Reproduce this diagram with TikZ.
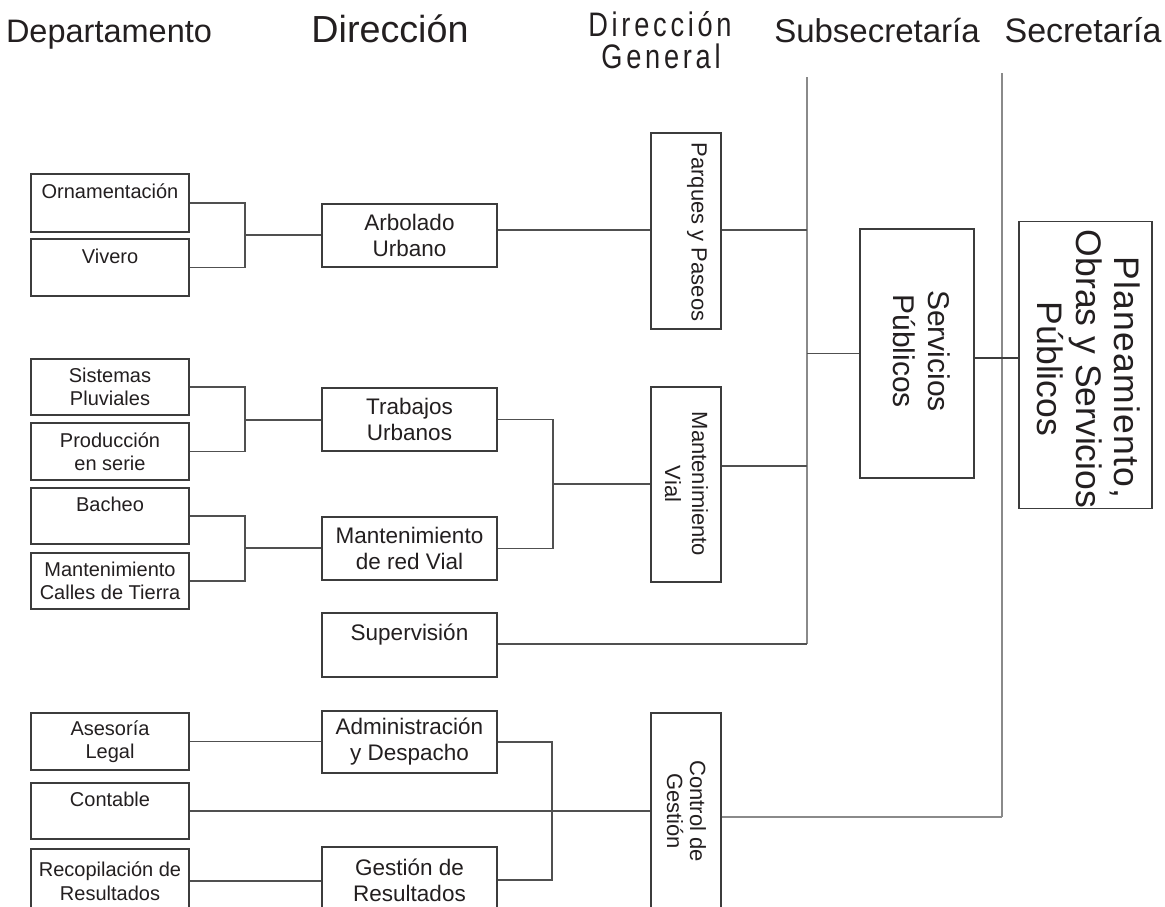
\documentclass[tikz,border=0pt]{standalone}
\usepackage{fontspec}
\setmainfont{Liberation Sans}
\newfontfamily\spacedfont[LetterSpace=11,FakeStretch=0.8]{Liberation Sans}
\definecolor{boxc}{HTML}{3C3C3C}
\definecolor{conc}{HTML}{505050}
\definecolor{busc}{HTML}{8A8A8A}
\definecolor{txtc}{HTML}{231F20}
\newcommand\lfont{\fontsize{20}{23.5}\selectfont}
\newcommand\mfont{\fontsize{22.5}{26}\selectfont}
\tikzset{
  boxbase/.style={draw=boxc, line width=1.3pt, inner sep=0pt, align=center, text=txtc},
  lbox/.style={boxbase, minimum width=158pt, font=\lfont},
  mbox/.style={boxbase, minimum width=175pt, font=\mfont},
  vbox/.style={boxbase, minimum width=70pt},
  vtext/.style={rotate=-90, align=center, text=txtc, inner sep=0pt},
  hdr/.style={anchor=base, text=txtc, inner sep=0pt},
  conn/.style={draw=conc, line width=1.2pt},
  bus/.style={draw=busc, line width=2.4pt},
  thickc/.style={draw=boxc, line width=2pt}
}
\begin{document}
\begin{tikzpicture}[x=1pt,y=-1pt]
\clip (0,0) rectangle (1165,906);
\fill[white] (0,0) rectangle (1165,906);

% headers
\node[hdr, font=\fontsize{32.5}{38}\selectfont] (hDep) at (109,42) {Departamento};
\node[hdr, font=\fontsize{37.7}{44}\selectfont] (hDir) at (390,42) {Dirección};
\node[hdr, font=\spacedfont\fontsize{34}{40}\selectfont] (hDG1) at (660,36) {Dirección};
\node[hdr, font=\spacedfont\fontsize{34}{40}\selectfont] (hDG2) at (661,68) {General};
\node[hdr, font=\fontsize{33}{40}\selectfont] (hSub) at (877,42) {Subsecretaría};
\node[hdr, font=\fontsize{34}{40}\selectfont] (hSec) at (1083,42) {Secretaría};

% buses
\coordinate (busT1) at (807,77);
\coordinate (busB1) at (807,644);
\coordinate (busT2) at (1002,73);
\coordinate (busB2) at (1002,817);
\draw[bus] (busT1) -- (busB1);
\draw[bus] (busT2) -- (busB2);

% left boxes
\node[lbox, minimum height=58pt] (orn) at (110,203) {Ornamentación\\\phantom{X}};
\node[lbox, minimum height=57pt] (viv) at (110,267.5) {Vivero\\\phantom{X}};
\node[lbox, minimum height=56pt] (sis) at (110,387) {Sistemas\\Pluviales};
\node[lbox, minimum height=57pt] (pro) at (110,451.5) {Producción\\en serie};
\node[lbox, minimum height=56pt] (bac) at (110,516) {Bacheo\\\phantom{X}};
\node[lbox, minimum height=56pt] (mct) at (110,581) {Mantenimiento\\Calles de Tierra};
\node[lbox, minimum height=57pt] (ase) at (110,741.5) {Asesoría\\Legal};
\node[lbox, minimum height=56pt] (con) at (110,811) {Contable\\\phantom{X}};
\node[lbox, minimum height=64pt] (rec) at (110,881) {Recopilación de\\Resultados};

% middle boxes
\node[mbox, minimum height=63pt] (arb) at (409.5,235.5) {Arbolado\\Urbano};
\node[mbox, minimum height=63pt] (tra) at (409.5,419.5) {Trabajos\\Urbanos};
\node[mbox, minimum height=63pt] (mrv) at (409.5,548.5) {Mantenimiento\\de red Vial};
\node[mbox, minimum height=64pt] (sup) at (409.5,645) {Supervisión\\\phantom{X}};
\node[mbox, minimum height=62pt] (adm) at (409.5,742) {Administración\\y Despacho};
\node[mbox, minimum height=66pt] (ges) at (409.5,880) {Gestión de\\Resultados};

% vertical boxes
\node[vbox, minimum height=196pt] (par) at (686,231) {};
\node[vbox, minimum height=195pt] (mv) at (686,484.5) {};
\node[vbox, minimum height=196pt] (ctl) at (686,811) {};
\node[boxbase, minimum width=114pt, minimum height=249pt] (ser) at (917,353.5) {};
\node[boxbase, minimum width=133pt, minimum height=287pt] (pla) at (1085.5,365) {};

\node[vtext, font=\fontsize{22}{26}\selectfont] (parT) at (697,232) {Parques y Paseos};
\node[vtext, font=\fontsize{22}{27}\selectfont] (mvT) at (686.5,484) {Mantenimiento\\Vial};
\node[vtext, font=\fontsize{22}{23}\selectfont] (ctlT) at (686.5,811) {Control de\\Gestión};
\node[vtext, font=\fontsize{30}{35}\selectfont] (serT) at (922,351) {Servicios\\Públicos};
\node[vtext, font=\fontsize{35.5}{38.5}\selectfont] (plaT) at (1089,369)
  {\hspace*{17pt}{\addfontfeature{LetterSpace=3.6}Planeamiento,}\\Obras y Servicios\\Públicos};

% connectors group 1
\coordinate (j1) at (245,235);
\draw[conn] (orn.east) -| (j1) |- (viv.east);
\draw[conn] (j1) -- (j1 -| arb.west);
\coordinate (yA) at (0,230);
\draw[conn] (arb.east |- yA) -- (par.west |- yA);
\draw[conn] (par.east |- yA) -- (busT1 |- yA);

% group 2
\coordinate (j2) at (245,420);
\draw[conn] (sis.east) -| (j2) |- (pro.east);
\draw[conn] (j2) -- (j2 -| tra.west);
\coordinate (j3) at (245,548);
\draw[conn] (bac.east) -| (j3) |- (mct.east);
\draw[conn] (j3) -- (j3 -| mrv.west);
\coordinate (j4) at (553,484);
\draw[conn] (tra.east) -| (j4) |- (mrv.east);
\draw[conn] (j4) -- (j4 -| mv.west);
\coordinate (yB) at (0,466);
\draw[conn] (mv.east |- yB) -- (busT1 |- yB);
\draw[conn] (sup.east |- busB1) -- (busB1);
\draw[conn] (busT1 |- ser.west) -- (ser.west);
\coordinate (yP) at (0,358);
\draw[thickc] (ser.east |- yP) -- (pla.west |- yP);

% bottom group
\draw[conn] (ase.east) -- (ase.east -| adm.west);
\coordinate (j5) at (552,810);
\draw[conn] (adm.east) -| (j5) |- (ges.east);
\draw[conn] (con.east) -- (con.east -| ctl.west);
\draw[conn] (rec.east) -- (rec.east -| ges.west);
\draw[bus] (ctl.east |- busB2) -- (busB2);
\end{tikzpicture}
\end{document}
